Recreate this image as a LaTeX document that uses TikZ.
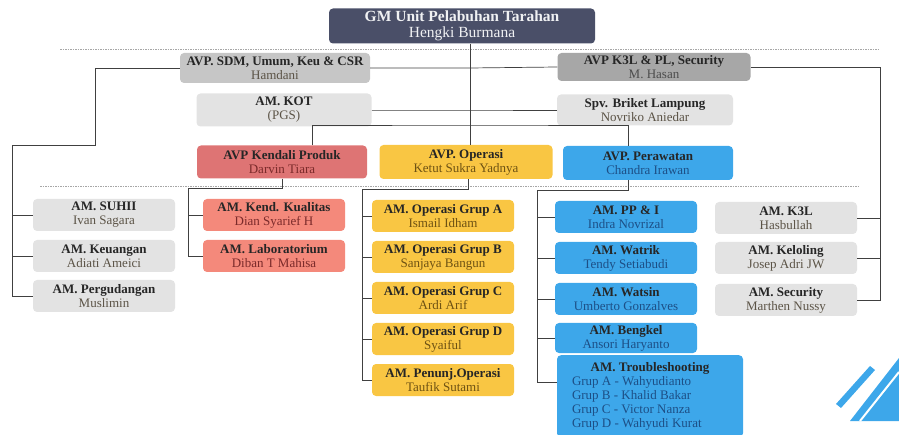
\documentclass[tikz,border=0pt]{standalone}
\usepackage{fontspec}
\setmainfont{Liberation Serif}
\usetikzlibrary{positioning}
\definecolor{gmfill}{HTML}{4A4F68}
\definecolor{graymid}{HTML}{C6C6C6}
\definecolor{graydark}{HTML}{A7A7A7}
\definecolor{graylight}{HTML}{E3E3E3}
\definecolor{redavp}{HTML}{DE7474}
\definecolor{redam}{HTML}{F4897B}
\definecolor{yellowop}{HTML}{F9C643}
\definecolor{bluerw}{HTML}{3DA7EA}
\definecolor{inkgray}{HTML}{5B5346}
\definecolor{inkred}{HTML}{7A2A2A}
\definecolor{inkyellow}{HTML}{6E5213}
\definecolor{inkblue}{HTML}{1D4F86}
\newcommand\pj[2]{{\bfseries\color{black!85}#1}\\#2}
\tikzset{
  unit/.style={rounded corners=4pt,align=center,inner sep=0pt,minimum width=142pt,minimum height=32pt,
    font=\fontsize{13}{14}\selectfont},
  gunit/.style={unit,fill=graylight,text=inkgray},
  runit/.style={unit,fill=redam,text=inkred},
  yunit/.style={unit,fill=yellowop,text=inkyellow},
  bunit/.style={unit,fill=bluerw,text=inkblue},
  link/.style={black!75,line width=0.7pt},
  sep/.style={black!35,dash pattern=on 1.5pt off 1pt,line width=0.6pt}
}
\begin{document}
\begin{tikzpicture}[x=1pt,y=-1pt]
  \useasboundingbox (0,0) rectangle (899,435);
  \clip (0,0) rectangle (899,435);
  \draw[sep] (60,49) -- (880,49);
  \draw[sep] (40,186) -- (860,186);
  % pimpinan
  \node[unit,fill=gmfill,text=white!92!gmfill,minimum width=266pt,minimum height=35pt,font=\fontsize{15.5}{16}\selectfont] (gm) at (462,26) {\textbf{GM Unit Pelabuhan Tarahan}\\Hengki Burmana};
  \node[gunit,fill=graymid,minimum width=190pt,minimum height=30pt] (sdm) at (275,68) {\pj{AVP. SDM, Umum, Keu \& CSR}{Hamdani}};
  \node[gunit,fill=graydark,text=black!70,minimum width=193pt,minimum height=28pt] (k3lpl) at (654,67) {\pj{AVP K3L \& PL, Security}{M. Hasan}};
  \node[gunit,minimum width=175pt,minimum height=33pt] (kot) at (284,110) {\pj{AM. KOT}{(PGS)}};
  \node[gunit,minimum width=176pt,minimum height=31pt] (spv) at (645,110) {\pj{Spv. Briket Lampung}{Novriko Aniedar}};
  \node[unit,fill=redavp,text=inkred,minimum width=170pt,minimum height=33pt] (kendali) at (282,162) {\pj{AVP Kendali Produk}{Darvin Tiara}};
  \node[yunit,minimum width=173pt,minimum height=34pt] (operasi) at (466,162) {\pj{AVP. Operasi}{Ketut Sukra Yadnya}};
  \node[bunit,minimum width=170pt,minimum height=34pt] (perawatan) at (648,163) {\pj{AVP. Perawatan}{Chandra Irawan}};
  % AM
  \node[gunit] (suhii) at (104,215) {\pj{AM. SUHII}{Ivan Sagara}};
  \node[gunit] (keuangan) at (104,256) {\pj{AM. Keuangan}{Adiati Ameici}};
  \node[gunit] (gudang) at (104,296) {\pj{AM. Pergudangan}{Muslimin}};
  \node[runit] (kualitas) at (274,215) {\pj{AM. Kend. Kualitas}{Dian Syarief H}};
  \node[runit] (lab) at (274,256) {\pj{AM. Laboratorium}{Diban T Mahisa}};
  \node[yunit] (grupa) at (443,216) {\pj{AM. Operasi Grup A}{Ismail Idham}};
  \node[yunit] (grupb) at (443,257) {\pj{AM. Operasi Grup B}{Sanjaya Bangun}};
  \node[yunit] (grupc) at (443,298) {\pj{AM. Operasi Grup C}{Ardi Arif}};
  \node[yunit] (grupd) at (443,339) {\pj{AM. Operasi Grup D}{Syaiful}};
  \node[yunit] (penunj) at (443,380) {\pj{AM. Penunj.Operasi}{Taufik Sutami}};
  \node[bunit] (ppi) at (626,217) {\pj{AM. PP \& I}{Indra Novrizal}};
  \node[bunit] (watrik) at (626,258) {\pj{AM. Watrik}{Tendy Setiabudi}};
  \node[bunit] (watsin) at (626,299) {\pj{AM. Watsin}{Umberto Gonzalves}};
  \node[bunit,minimum height=30pt] (bengkel) at (626,338) {\pj{AM. Bengkel}{Ansori Haryanto}};
  \node[bunit,anchor=north,minimum width=186pt,minimum height=82pt] (trouble) at (650,355) {\textbf{\color{black!85}AM. Troubleshooting}\\
    \makebox[156pt][l]{Grup A - Wahyudianto}\\\makebox[156pt][l]{Grup B - Khalid Bakar}\\
    \makebox[156pt][l]{Grup C - Victor Nanza}\\\makebox[156pt][l]{Grup D - Wahyudi Kurat}};
  \node[gunit] (amk3l) at (786,218) {\pj{AM. K3L}{Hasbullah}};
  \node[gunit] (keloling) at (786,258) {\pj{AM. Keloling}{Josep Adri JW}};
  \node[gunit] (security) at (786,300) {\pj{AM. Security}{Marthen Nussy}};
  % garis
  \coordinate (hub) at (470,125);
  \coordinate (lbend) at (95,145); \coordinate (lbar) at (12,145);
  \coordinate (rbar) at (880,67);
  \coordinate (redbar) at (188,188); \coordinate (yelbar) at (362,189); \coordinate (blubar) at (537,190);
  \draw[link] ([xshift=8pt]gm.south) -- ([xshift=4pt]operasi.north);
  \draw[link] (sdm.east) -- (sdm.east -| hub) -- (k3lpl.west);
  \draw[link] (kot.east) -- (kot.east -| hub) -- (spv.west);
  \draw[link] ([xshift=30pt]kendali.north) |- (hub) -| ([xshift=-20pt]perawatan.north);
  \draw[link] (sdm.west) -| (lbend) -- (lbar) |- (gudang.west);
  \draw[link] (suhii.west) -- (suhii.west -| lbar);
  \draw[link] (keuangan.west) -- (keuangan.west -| lbar);
  \draw[link] (k3lpl.east) -- (rbar) |- (security.east);
  \draw[link] (amk3l.east) -- (amk3l.east -| rbar);
  \draw[link] (keloling.east) -- (keloling.east -| rbar);
  \draw[link] (kendali.south) |- (redbar) |- (lab.west);
  \draw[link] (kualitas.west) -- (kualitas.west -| redbar);
  \draw[link] ([xshift=2pt]operasi.south) |- (yelbar) |- (penunj.west);
  \foreach \n in {grupa,grupb,grupc,grupd} \draw[link] (\n.west) -- (\n.west -| yelbar);
  \draw[link] ([xshift=-20pt]perawatan.south) |- (blubar) |- ([yshift=-27pt]trouble.north west);
  \foreach \n in {ppi,watrik,watsin,bengkel} \draw[link] (\n.west) -- (\n.west -| blubar);
  % hiasan
  \fill[bluerw] (850,421) -- (899,358) -- (899,421) -- cycle;
  \draw[white,line width=2pt] (860,421) -- (899,372);
  \fill[bluerw] (836,404) -- (870,366) -- (875,370) -- (841,408) -- cycle;
\end{tikzpicture}
\end{document}
